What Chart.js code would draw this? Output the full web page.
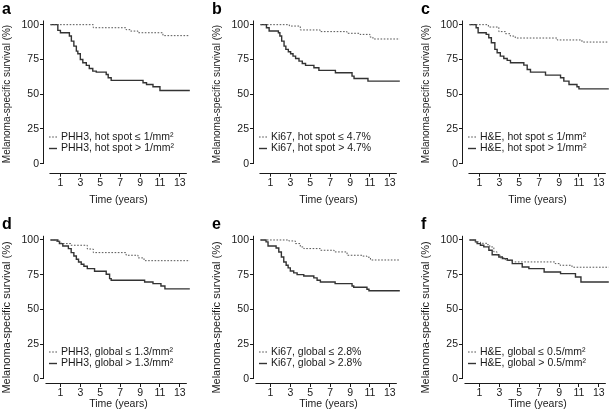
<!DOCTYPE html>
<html>
<head>
<meta charset="utf-8">
<script src="https://cdn.jsdelivr.net/npm/chart.js@4.4.1/dist/chart.umd.min.js"></script>
<style>
  html, body { margin: 0; padding: 0; background: #fff; width: 614px; height: 420px; overflow: hidden; }
  .panel { position: absolute; width: 210px; height: 210px; }
</style>
</head>
<body>
<div class="panel" style="left:0;top:0"><canvas id="pa"></canvas></div>
<div class="panel" style="left:210px;top:0"><canvas id="pb"></canvas></div>
<div class="panel" style="left:419px;top:0"><canvas id="pc"></canvas></div>
<div class="panel" style="left:0;top:210px"><canvas id="pd"></canvas></div>
<div class="panel" style="left:210px;top:210px"><canvas id="pe"></canvas></div>
<div class="panel" style="left:419px;top:210px"><canvas id="pf"></canvas></div>
<script>
// Kaplan-Meier curves: event times (years) and survival (%)
const xTicks = [1, 3, 5, 7, 9, 11, 13];
const yTicks = [0, 25, 50, 75, 100];
const yTitle = 'Melanoma-specific survival (%)';
const xTitle = 'Time (years)';

// a: PHH3 hot spot
const aLowT  = [0, 4.3, 7.6, 8.0, 8.8, 11.3, 14];
const aLowS  = [100, 97.8, 96.4, 95.4, 94.2, 92.1, 92.1];
const aHighT = [0, 0.74, 1.0, 1.9, 2.1, 2.35, 2.6, 2.75, 3.0, 3.25, 3.6, 3.9, 4.25, 4.6, 5.6, 5.8, 6.1, 9.3, 9.65, 10.3, 11.0, 14];
const aHighS = [100, 95.9, 94.2, 91.8, 88.2, 84.6, 81.0, 79.1, 75.0, 72.6, 70.7, 68.5, 66.6, 65.9, 64.2, 61.8, 59.9, 58.2, 57.0, 55.4, 52.6, 52.6];

// b: Ki67 hot spot
const bLowT  = [0, 2.9, 4.0, 6.0, 8.7, 10.0, 11.0, 11.3, 14];
const bLowS  = [100, 99.0, 96.2, 95.0, 93.8, 93.0, 91.1, 89.7, 89.7];
const bHighT = [0, 0.6, 0.87, 1.8, 1.95, 2.13, 2.37, 2.55, 2.8, 3.03, 3.27, 3.53, 3.87, 4.2, 4.53, 5.37, 5.87, 7.53, 9.2, 9.4, 10.8, 14];
const bHighS = [100, 97.8, 95.4, 94.2, 91.8, 88.2, 84.6, 82.2, 80.5, 79.1, 77.4, 75.7, 73.8, 72.1, 70.7, 69.0, 67.1, 65.4, 63.0, 61.3, 59.4, 59.4];

// c: H&E hot spot
const cLowT  = [0, 1.9, 2.95, 3.6, 4.1, 4.6, 8.8, 11.3, 14];
const cLowS  = [100, 98.3, 95.0, 93.5, 91.8, 90.4, 89.0, 87.5, 87.5];
const cHighT = [0, 0.67, 0.87, 1.68, 1.94, 2.2, 2.55, 2.78, 3.1, 3.45, 3.79, 4.12, 5.46, 5.8, 6.13, 7.64, 9.15, 9.48, 10.0, 10.8, 11.0, 14];
const cHighS = [100, 97.8, 94.2, 93.0, 90.6, 87.0, 82.2, 79.8, 77.4, 75.7, 74.3, 72.6, 70.9, 67.8, 65.9, 63.7, 61.8, 59.4, 57.0, 55.3, 53.8, 53.8];

// d: PHH3 global
const dLowT  = [0, 0.6, 1.05, 2.05, 3.7, 4.3, 7.6, 8.8, 9.4, 14];
const dLowS  = [100, 99.0, 97.4, 96.2, 93.5, 90.9, 89.0, 87.1, 85.1, 85.1];
const dHighT = [0, 0.74, 0.9, 1.24, 1.8, 2.08, 2.35, 2.6, 2.82, 3.09, 3.36, 3.7, 4.43, 5.6, 5.94, 6.1, 9.46, 10.3, 11.1, 11.5, 14];
const dHighS = [100, 99.0, 97.4, 95.7, 93.8, 90.9, 88.5, 86.1, 84.2, 82.5, 81.1, 79.4, 77.5, 75.3, 72.2, 71.0, 69.8, 68.6, 66.9, 64.8, 64.8];

// e: Ki67 global
const eLowT  = [0, 2.84, 3.5, 4.0, 4.35, 6.0, 7.4, 8.7, 10.2, 10.7, 11.05, 14];
const eLowS  = [100, 99.3, 97.4, 95.0, 93.8, 92.6, 91.4, 89.0, 88.4, 87.6, 85.6, 85.6];
const eHighT = [0, 0.56, 0.76, 1.57, 1.84, 2.1, 2.34, 2.58, 2.78, 3.0, 3.34, 3.68, 4.35, 5.36, 5.69, 6.02, 7.5, 9.2, 9.37, 10.7, 10.9, 14];
const eHighS = [100, 98.6, 95.7, 94.2, 91.4, 87.8, 84.2, 81.8, 79.9, 77.7, 76.3, 75.1, 74.1, 72.7, 71.0, 69.8, 68.6, 66.9, 66.0, 64.5, 63.5, 63.5];

// f: H&E global
const fLowT  = [0, 0.6, 1.1, 1.78, 2.04, 2.45, 2.78, 3.1, 3.6, 4.28, 8.6, 9.1, 10.3, 14];
const fLowS  = [100, 98.6, 97.6, 96.6, 95.0, 91.4, 89.0, 87.1, 85.4, 84.2, 83.0, 81.8, 80.4, 80.4];
const fHighT = [0, 0.6, 0.77, 1.1, 1.44, 1.95, 2.28, 2.95, 3.3, 3.8, 4.3, 5.3, 5.97, 7.5, 9.15, 10.65, 11.2, 14];
const fHighS = [100, 98.6, 97.4, 96.2, 95.0, 92.6, 89.4, 87.8, 86.6, 85.4, 83.0, 80.6, 79.4, 77.0, 75.8, 73.4, 69.8, 69.8];

const FONT = "'Liberation Sans', Arial, sans-serif";
const INK = "#1a1a1a";

// per-row geometry (top row / bottom row differ slightly in the figure)
const ROWS = {
  top:    { padTop: 20.5, yMin: -6.47, xH: 37.3, xTitlePad: 3.7, legY: [137, 148.5], letterY: 10, xFrom: -0.1,
            yTitleSize: 10, yTitleMid: 94 },
  bottom: { padTop: 25.8, yMin: -2.88, xH: 37,   xTitlePad: 9.7, legY: [142, 153.5], letterY: 15, xFrom: -0.5,
            yTitleSize: 11, yTitleMid: 107.5 },
};

function pts(t, s) { return t.map((v, i) => ({ x: v, y: s[i] })); }

// R-style axis lines, y title, panel letter and the in-plot legend
const kmDecor = {
  id: 'kmDecor',
  afterDraw(chart, args, o) {
    const { ctx, chartArea, scales: { x, y } } = chart;
    ctx.save();
    ctx.strokeStyle = INK;
    ctx.lineWidth = 1;
    ctx.setLineDash([]);
    ctx.beginPath();
    const xb = Math.round(chartArea.bottom) + 0.5;
    const yl = Math.round(chartArea.left) - 0.5;
    ctx.moveTo(x.getPixelForValue(o.xFrom), xb);
    ctx.lineTo(x.getPixelForValue(13.7), xb);
    ctx.moveTo(yl, y.getPixelForValue(0));
    ctx.lineTo(yl, y.getPixelForValue(103));
    ctx.stroke();

    ctx.fillStyle = "#000";
    ctx.textBaseline = "middle";

    // rotated y-axis title
    ctx.save();
    ctx.translate(7, o.yTitleMid);
    ctx.rotate(-Math.PI / 2);
    ctx.textAlign = "center";
    ctx.font = o.yTitleSize + "px " + FONT;
    ctx.fillStyle = INK;
    ctx.fillText(yTitle, 0, 0);
    ctx.restore();

    ctx.textAlign = "left";
    ctx.font = "bold 16px " + FONT;
    ctx.fillText(o.letter, 2, o.letterY);

    ctx.font = "10.5px " + FONT;
    chart.data.datasets.forEach((ds, i) => {
      const ly = o.legY[i];
      ctx.beginPath();
      ctx.strokeStyle = ds.borderColor;
      ctx.lineWidth = ds.borderWidth;
      ctx.setLineDash(ds.borderDash || []);
      ctx.moveTo(49, ly);
      ctx.lineTo(57, ly);
      ctx.stroke();
      ctx.fillStyle = INK;
      ctx.fillText(ds.label, 61, ly);
    });
    ctx.restore();
  }
};

function makePanel(id, letter, lowT, lowS, highT, highS, lowLabel, highLabel, rowKey) {
  const row = ROWS[rowKey];
  return new Chart(document.getElementById(id), {
    type: 'line',
    data: {
      datasets: [
        { label: lowLabel, data: pts(lowT, lowS), borderColor: "#555", borderWidth: 1,
          borderDash: [1.6, 1.6], stepped: 'before', pointRadius: 0, fill: false },
        { label: highLabel, data: pts(highT, highS), borderColor: "#333", borderWidth: 1.4,
          stepped: 'before', pointRadius: 0, fill: false },
      ]
    },
    options: {
      responsive: true,
      maintainAspectRatio: false,
      animation: false,
      layout: { padding: { top: row.padTop, right: 17.2, bottom: 0, left: 0 } },
      plugins: {
        legend: { display: false },
        tooltip: { enabled: false },
        kmDecor: { letter, legY: row.legY, letterY: row.letterY, xFrom: row.xFrom,
                   yTitleSize: row.yTitleSize, yTitleMid: row.yTitleMid },
      },
      scales: {
        x: {
          type: 'linear', min: -0.65, max: 14.3,
          afterBuildTicks: (s) => { s.ticks = xTicks.map(v => ({ value: v })); },
          afterFit: (s) => { s.height = row.xH; },
          border: { display: false },
          grid: { drawOnChartArea: false, drawTicks: true, tickLength: 4, tickColor: INK },
          ticks: { color: INK, padding: 0, maxRotation: 0, autoSkip: false, font: { family: FONT, size: 10.5 } },
          title: { display: true, text: xTitle, color: INK, padding: { top: 0, bottom: row.xTitlePad },
                   font: { family: FONT, size: 10.5 } },
        },
        y: {
          type: 'linear', min: row.yMin, max: 103,
          afterBuildTicks: (s) => { s.ticks = yTicks.map(v => ({ value: v })); },
          afterFit: (s) => { s.width = 44; },
          border: { display: false },
          grid: { drawOnChartArea: false, drawTicks: true, tickLength: 4, tickColor: INK },
          ticks: { color: INK, padding: 1, font: { family: FONT, size: 10.5 } },
        }
      }
    },
    plugins: [kmDecor]
  });
}

makePanel('pa', 'a', aLowT, aLowS, aHighT, aHighS, 'PHH3, hot spot \u2264 1/mm\u00b2', 'PHH3, hot spot > 1/mm\u00b2', 'top');
makePanel('pb', 'b', bLowT, bLowS, bHighT, bHighS, 'Ki67, hot spot \u2264 4.7%', 'Ki67, hot spot > 4.7%', 'top');
makePanel('pc', 'c', cLowT, cLowS, cHighT, cHighS, 'H&E, hot spot \u2264 1/mm\u00b2', 'H&E, hot spot > 1/mm\u00b2', 'top');
makePanel('pd', 'd', dLowT, dLowS, dHighT, dHighS, 'PHH3, global \u2264 1.3/mm\u00b2', 'PHH3, global > 1.3/mm\u00b2', 'bottom');
makePanel('pe', 'e', eLowT, eLowS, eHighT, eHighS, 'Ki67, global \u2264 2.8%', 'Ki67, global > 2.8%', 'bottom');
makePanel('pf', 'f', fLowT, fLowS, fHighT, fHighS, 'H&E, global \u2264 0.5/mm\u00b2', 'H&E, global > 0.5/mm\u00b2', 'bottom');
</script>
</body>
</html>
